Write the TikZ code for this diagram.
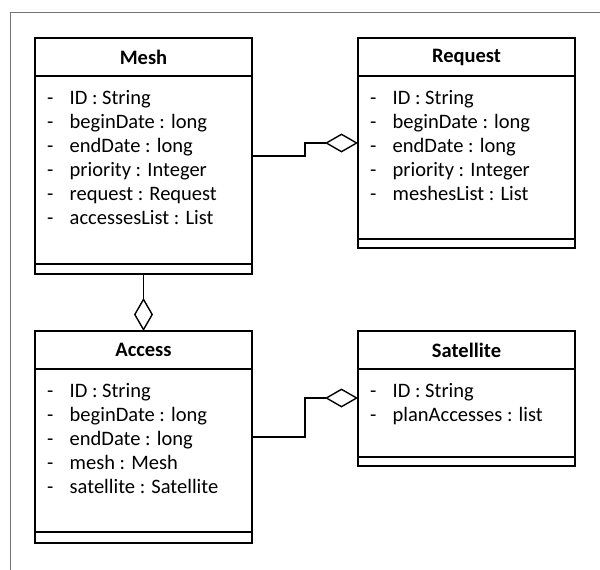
\documentclass[tikz,border=0pt]{standalone}
\usepackage{fontspec}
\setmainfont{Carlito}
\usepackage{tikz}
\usetikzlibrary{arrows.meta,positioning}

\newcommand{\field}[1]{\strut\makebox[22.5pt][l]{-}#1}

\begin{document}
\begin{tikzpicture}[x=1pt, y=-1pt,
  box/.style={draw, line width=1.4pt, outer sep=0pt, inner sep=0pt, minimum width=217pt},
  head/.style={box, minimum height=38pt, font=\bfseries\fontsize{20.5}{24}\selectfont},
  fields/.style={anchor=north west, inner sep=0pt, align=left, font=\fontsize{20.5}{24}\selectfont},
  agg/.style={line width=1.4pt, -{Diamond[open, length=33pt, width=19pt]}}]
  \useasboundingbox (0,0) rectangle (600,570);
  \draw[black!55, line width=1pt] (10,570) -- (10,12) -- (600,12);

  % Mesh
  \node[head, anchor=north west] (mesh-head) at (35,38) {Mesh};
  \node[box, minimum height=188pt, below=0pt of mesh-head] (mesh-attr) {};
  \node[box, minimum height=10pt, below=0pt of mesh-attr] (mesh-ops) {};
  \node[fields] (mesh-list) at ([xshift=12pt, yshift=-11pt]mesh-attr.north west) {
    \field{ID : String}\\ \field{beginDate : long}\\ \field{endDate : long}\\
    \field{priority : Integer}\\ \field{request : Request}\\ \field{accessesList : List}
  };

  % Request
  \node[head, anchor=north west] (req-head) at (358,38) {Request};
  \node[box, minimum height=163pt, below=0pt of req-head] (req-attr) {};
  \node[box, minimum height=9pt, below=0pt of req-attr] (req-ops) {};
  \node[fields] (req-list) at ([xshift=12pt, yshift=-11pt]req-attr.north west) {
    \field{ID : String}\\ \field{beginDate : long}\\ \field{endDate : long}\\
    \field{priority : Integer}\\ \field{meshesList : List}
  };

  % Access
  \node[head, anchor=north west] (acc-head) at (35,331) {Access};
  \node[box, minimum height=163pt, below=0pt of acc-head] (acc-attr) {};
  \node[box, minimum height=11pt, below=0pt of acc-attr] (acc-ops) {};
  \node[fields] (acc-list) at ([xshift=12pt, yshift=-11pt]acc-attr.north west) {
    \field{ID : String}\\ \field{beginDate : long}\\ \field{endDate : long}\\
    \field{mesh : Mesh}\\ \field{satellite : Satellite}
  };

  % Satellite
  \node[head, anchor=north west] (sat-head) at (358,331) {Satellite};
  \node[box, minimum height=88pt, below=0pt of sat-head] (sat-attr) {};
  \node[box, minimum height=9pt, below=0pt of sat-attr] (sat-ops) {};
  \node[fields] (sat-list) at ([xshift=12pt, yshift=-11pt]sat-attr.north west) {
    \field{ID : String}\\ \field{planAccesses : list}
  };

  % aggregations
  \draw[agg] ([yshift=14pt]mesh-attr.east) -- ++(53pt,0) |- ([yshift=14.5pt]req-attr.west);
  \draw[agg] (mesh-ops.south) -- (acc-head.north);
  \draw[agg] ([yshift=13.5pt]acc-attr.east) -- ++(53pt,0) |- ([yshift=15pt]sat-attr.west);
\end{tikzpicture}
\end{document}
